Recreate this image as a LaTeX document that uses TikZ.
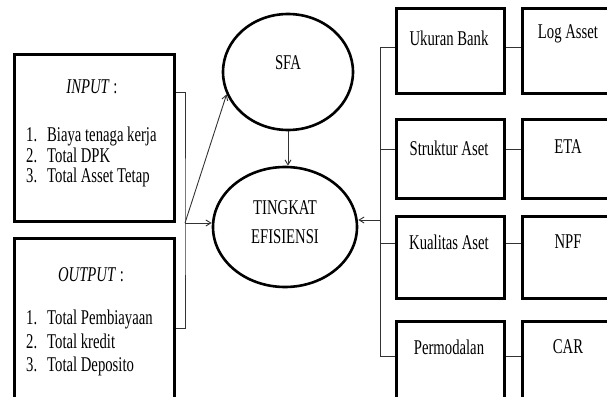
\documentclass[tikz,border=0pt]{standalone}
\usepackage{fontspec}
\setmainfont{Liberation Serif}[FakeStretch=0.7]
\usetikzlibrary{calc,shapes.geometric,arrows.meta}

\tikzset{
    box/.style={draw, line width=2.6pt, inner sep=0pt, anchor=north west},
    oval/.style={draw, ellipse, line width=2.6pt, inner sep=0pt},
    conn/.style={draw=black!80, line width=0.9pt},
    arr/.style={conn, -{Straight Barb[length=5pt,width=6pt]}},
    txt/.style={inner sep=0pt, font=\fontsize{21}{24}\selectfont},
    item/.style={txt, anchor=west, text height=13pt, text depth=4pt}
}

\begin{document}
\begin{tikzpicture}[x=1pt, y=-1pt]
            \useasboundingbox (0,0) rectangle (607,396);

            \node (inbox) at (13,53) [box, minimum width=160, minimum height=167] {};
            \node (outbox) at (13,237) [box, minimum width=160, minimum height=175] {};
            \node (inhead) at (92,87) [txt] {\textit{INPUT} :};
            \node (outhead) at (91,275) [txt] {\textit{OUTPUT} :};

            \foreach \i/\t in {1/Biaya tenaga kerja, 2/Total DPK, 3/Total Asset Tetap}
                \node (in\i) at (26,116.5+20.5*\i) [item] {\makebox[21pt][l]{\i.}\t};
            \foreach \i/\t in {1/Total Pembiayaan, 2/Total kredit, 3/Total Deposito}
                \node (out\i) at (26,296.5+23.5*\i) [item] {\makebox[21pt][l]{\i.}\t};

            \node (sfa) at (288,72) [oval, minimum width=130, minimum height=116] {};
            \node (sfa-t) at (288,63) [txt] {SFA};
            \node (tk) at (285,227) [oval, minimum width=144, minimum height=120] {};
            \node (tk-t) at (285,222) [txt, align=center] {TINGKAT\\[5pt]EFISIENSI};

            \foreach \n/\t/\h/\ya/\yb/\yc/\ta/\tb in {1/7/85/38/34/47/Ukuran Bank/Log Asset,
                    2/118/79/148/147/149/Struktur Aset/ETA,
                    3/215/82/242/242/243/Kualitas Aset/NPF,
                    4/320/90/347/347/356/Permodalan/CAR}
                {
                    \node (var\n) at (395,\t) [box, minimum width=108, minimum height=\h] {};
                    \node (ind\n) at (521,\t) [box, minimum width=94, minimum height=\h] {};
                    \node (var\n-t) at (449,\ya) [txt] {\ta};
                    \node (ind\n-t) at (568,\yb) [txt] {\tb};
                    \coordinate (b\n) at (380,\yc);
                    \draw [conn] (b\n) -- (var\n.west |- b\n);
                    \draw [conn] (var\n.east |- b\n) -- (ind\n.west |- b\n);
                }

                \draw [conn] (b1) -- (b4);
                \coordinate (rj) at (380,220);
                \draw [arr] (rj) -- (tk.east |- rj);

                \coordinate (lj) at (185,223);
                \draw [conn] ($(inbox.north east)+(0,39)$) -| (lj) |- ($(outbox.north east)+(0,91)$);
                \draw [arr] (lj) -- (sfa.200);
                \draw [arr] (lj) -- (tk.west |- lj);
                \draw [arr] (sfa.south) -- (sfa.south |- tk.north);

        \end{tikzpicture}
\end{document}
